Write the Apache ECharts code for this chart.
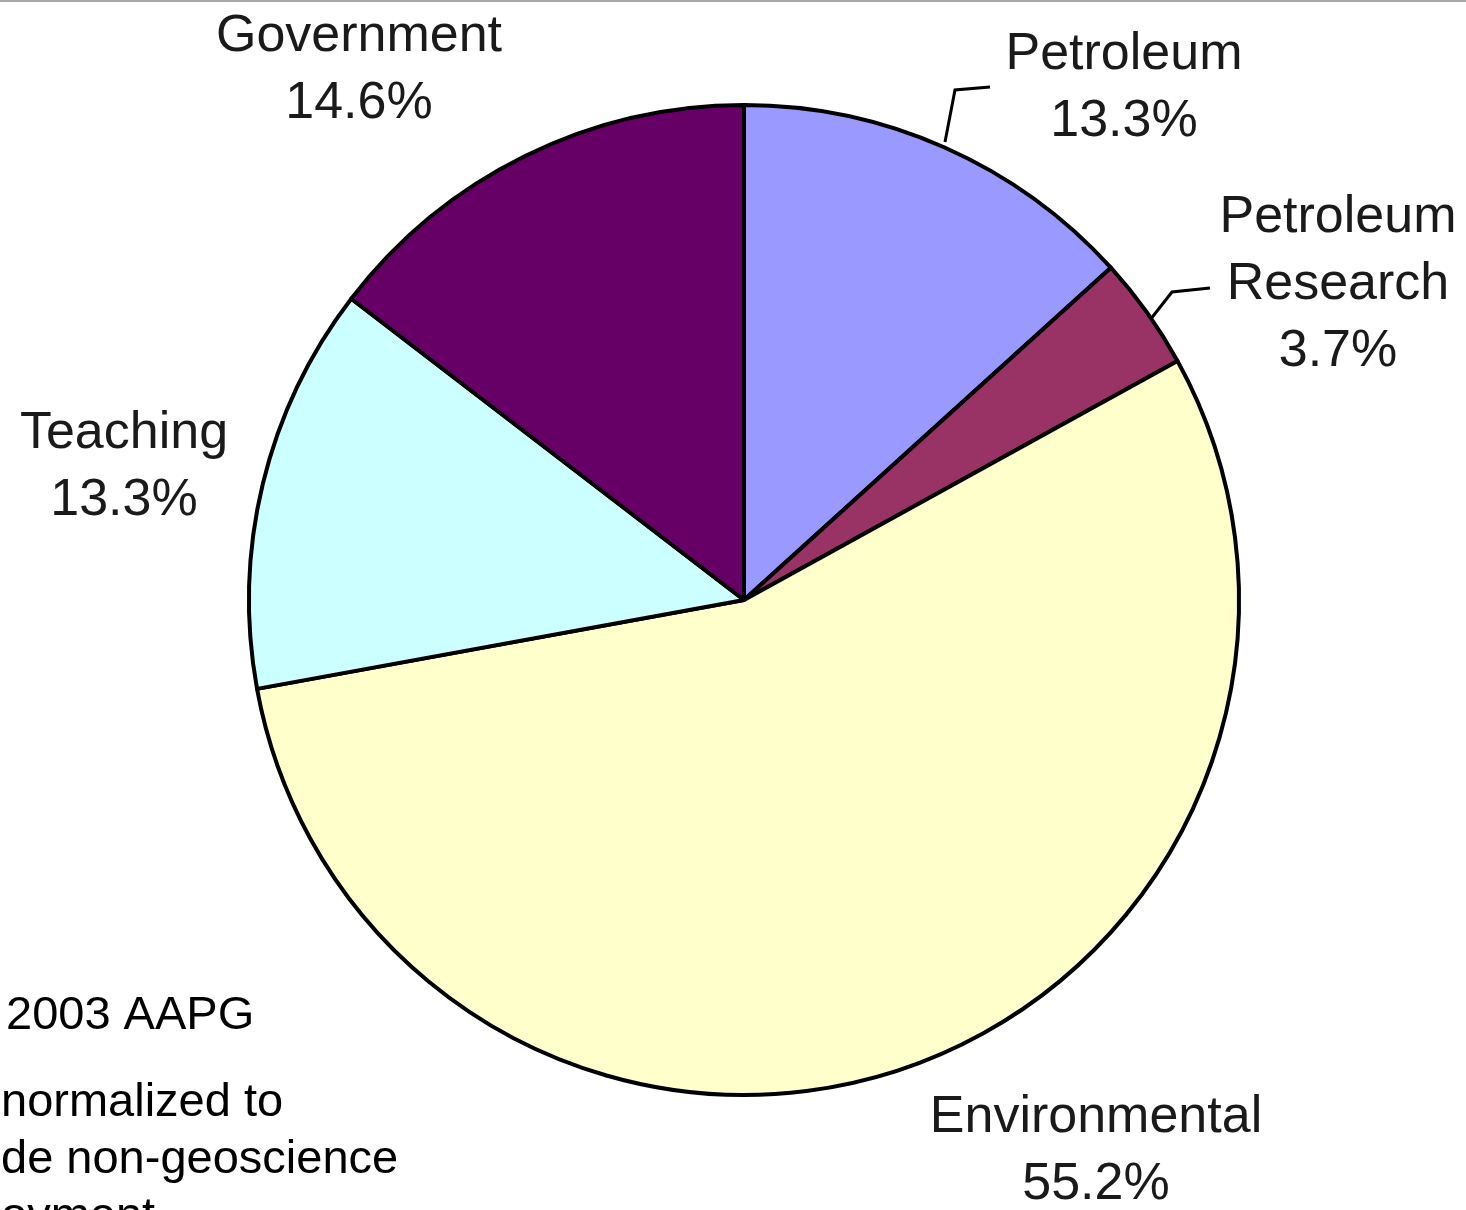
<!DOCTYPE html>
<html>
<head>
<meta charset="utf-8">
<script src="https://cdn.jsdelivr.net/npm/echarts@6/dist/echarts.min.js"></script>
<style>
  html, body { margin: 0; padding: 0; background: #fff; }
  #chart { width: 1466px; height: 1210px; }
</style>
</head>
<body>
<div id="chart"></div>
<script>
// Geoscience employment by sector (percent)
const sectors = ['Petroleum', 'Petroleum Research', 'Environmental', 'Teaching', 'Government'];
const shares = [13.3, 3.7, 55.2, 13.3, 14.6];
const sliceColors = ['#9999FF', '#993366', '#FFFFCC', '#CCFFFF', '#660066'];
const noteLines = ['2003 AAPG', 'normalized to', 'de non-geoscience', 'oyment'];

// Where each sector label sits, and the leader lines for the two crowded ones
const labelSpots = {
  'Petroleum': { x: 1124, y: 88 },
  'Petroleum Research': { x: 1338, y: 285 },
  'Environmental': { x: 1096, y: 1151 },
  'Teaching': { x: 124, y: 467 },
  'Government': { x: 359, y: 70 }
};
const leaders = {
  'Petroleum': [[945, 142], [955, 90], [990, 87]],
  'Petroleum Research': [[1150, 320], [1172, 292], [1210, 288]]
};

const chart = echarts.init(document.getElementById('chart'), null, { renderer: 'canvas' });

const pieData = sectors.map((name, i) => ({
  name: name,
  value: shares[i],
  itemStyle: { color: sliceColors[i] },
  labelLine: { show: !!leaders[name] }
}));

const noteY = [1036, 1123, 1180, 1237];
const notes = noteLines.map((t, i) => ({
  type: 'text',
  left: i === 0 ? 6 : 1,
  top: noteY[i] - 43,
  style: {
    text: t,
    fill: '#000',
    font: '47px "Liberation Sans", Arial, sans-serif'
  }
}));

chart.setOption({
  animation: false,
  backgroundColor: '#fff',
  graphic: [
    {
      type: 'line',
      shape: { x1: 0, y1: 1, x2: 1466, y2: 1 },
      style: { stroke: '#a8a8a8', lineWidth: 2 }
    }
  ].concat(notes),
  series: [{
    type: 'pie',
    center: [744, 600],
    radius: 495,
    startAngle: 90,
    clockwise: true,
    avoidLabelOverlap: false,
    itemStyle: { borderColor: '#000', borderWidth: 4 },
    label: {
      show: true,
      position: 'outside',
      formatter: p => p.name.replace(' ', '\n') + '\n' + p.value + '%',
      color: '#1a1a1a',
      fontFamily: '"Liberation Sans", Arial, sans-serif',
      fontSize: 52,
      lineHeight: 67,
      align: 'center'
    },
    labelLine: {
      show: false,
      lineStyle: { color: '#000', width: 3 }
    },
    labelLayout: function (params) {
      const name = sectors[params.dataIndex];
      const spot = labelSpots[name];
      const out = {
        x: spot.x,
        y: spot.y,
        align: 'center',
        verticalAlign: 'middle'
      };
      if (leaders[name]) out.labelLinePoints = leaders[name];
      return out;
    },
    data: pieData
  }]
});
</script>
</body>
</html>
